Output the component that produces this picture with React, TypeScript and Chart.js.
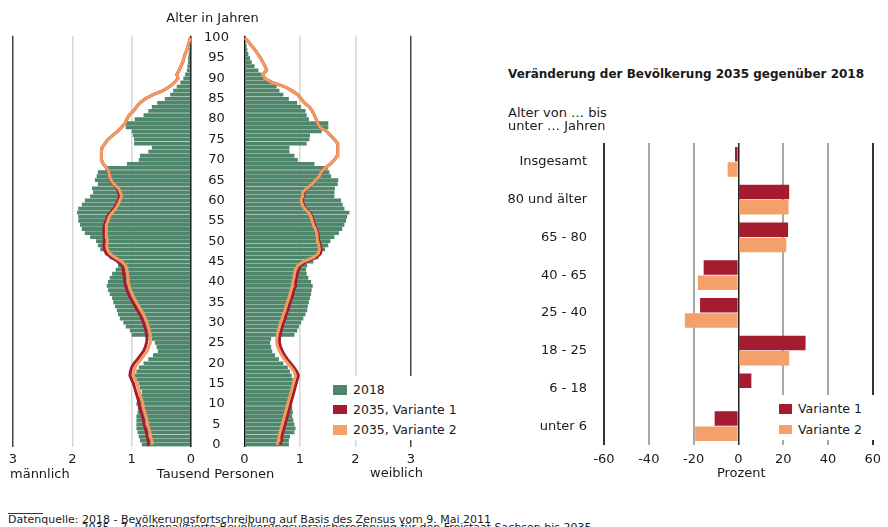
import React, { useEffect, useRef } from "react";
import { Chart, registerables } from "chart.js";

Chart.register(...registerables);

// ---------- data ----------
const AGE_LABELS: string[] = Array.from({ length: 101 }, (_, i) => String(i));

// thousand persons, index = age 0..100
const MALE_2018 = [
  0.83, 0.86, 0.88, 0.9, 0.92, 0.92, 0.92, 0.92, 0.9, 0.88,
  0.92, 0.88, 0.88, 0.83, 0.86, 0.88, 0.92, 0.95, 0.92, 0.88,
  0.8, 0.72, 0.64, 0.56, 0.58, 0.61, 0.66, 1.0, 1.03, 1.1,
  1.14, 1.2, 1.23, 1.25, 1.28, 1.31, 1.33, 1.37, 1.4, 1.42,
  1.4, 1.37, 1.33, 1.27, 1.23, 1.25, 1.37, 1.45, 1.53, 1.57,
  1.6, 1.7, 1.79, 1.84, 1.87, 1.9, 1.9, 1.92, 1.9, 1.84,
  1.79, 1.7, 1.65, 1.67, 1.57, 1.62, 1.59, 1.57, 1.45, 1.08,
  0.88, 0.86, 0.72, 0.66, 0.96, 0.96, 0.98, 1.0, 1.1, 1.1,
  0.95, 0.8, 0.72, 0.66, 0.57, 0.44, 0.35, 0.3, 0.24, 0.18,
  0.13, 0.1, 0.07, 0.06, 0.05, 0.05, 0.04, 0.03, 0.02, 0.01,
  0.01,
];
const MALE_2035_V1 = [
  0.71, 0.72, 0.74, 0.75, 0.77, 0.79, 0.8, 0.82, 0.84, 0.86,
  0.87, 0.89, 0.91, 0.93, 0.95, 0.97, 1.0, 1.03, 1.02, 1.0,
  0.96, 0.9, 0.85, 0.8, 0.77, 0.75, 0.74, 0.75, 0.76, 0.78,
  0.8, 0.83, 0.86, 0.9, 0.94, 0.98, 1.02, 1.05, 1.08, 1.1,
  1.12, 1.12, 1.13, 1.14, 1.16, 1.23, 1.34, 1.43, 1.46, 1.47,
  1.46, 1.46, 1.47, 1.47, 1.46, 1.43, 1.41, 1.36, 1.3, 1.26,
  1.23, 1.2, 1.22, 1.24, 1.31, 1.36, 1.37, 1.38, 1.42, 1.48,
  1.51, 1.51, 1.51, 1.5, 1.45, 1.4, 1.32, 1.24, 1.17, 1.11,
  1.08, 1.04, 0.97, 0.92, 0.86, 0.77, 0.64, 0.47, 0.36, 0.28,
  0.22, 0.24, 0.2, 0.17, 0.14, 0.12, 0.1, 0.07, 0.05, 0.03,
  0.01,
];
const MALE_2035_V2 = [
  0.65, 0.66, 0.68, 0.69, 0.71, 0.73, 0.74, 0.76, 0.78, 0.8,
  0.81, 0.83, 0.85, 0.87, 0.89, 0.91, 0.94, 0.97, 0.96, 0.94,
  0.9, 0.84, 0.79, 0.74, 0.71, 0.69, 0.68, 0.69, 0.7, 0.72,
  0.74, 0.77, 0.8, 0.84, 0.88, 0.92, 0.96, 0.99, 1.02, 1.04,
  1.06, 1.06, 1.07, 1.08, 1.1, 1.17, 1.28, 1.37, 1.41, 1.42,
  1.41, 1.42, 1.43, 1.43, 1.42, 1.4, 1.38, 1.33, 1.27, 1.23,
  1.2, 1.17, 1.19, 1.22, 1.3, 1.35, 1.37, 1.38, 1.42, 1.48,
  1.51, 1.51, 1.51, 1.5, 1.45, 1.4, 1.32, 1.24, 1.17, 1.11,
  1.08, 1.04, 0.97, 0.92, 0.86, 0.77, 0.64, 0.47, 0.36, 0.28,
  0.22, 0.24, 0.2, 0.17, 0.14, 0.12, 0.1, 0.07, 0.05, 0.03,
  0.01,
];
const FEMALE_2018 = [
  0.8, 0.8, 0.82, 0.9, 0.92, 0.9, 0.88, 0.86, 0.87, 0.86,
  0.85, 0.86, 0.84, 0.85, 0.84, 0.86, 0.87, 0.85, 0.82, 0.78,
  0.7, 0.62, 0.55, 0.5, 0.48, 0.46, 0.48, 0.9, 0.95, 0.98,
  1.02, 1.06, 1.1, 1.13, 1.14, 1.16, 1.18, 1.2, 1.21, 1.23,
  1.2, 1.15, 1.12, 1.11, 1.13, 1.24, 1.33, 1.38, 1.45, 1.51,
  1.55, 1.62, 1.7, 1.76, 1.8, 1.83, 1.85, 1.89, 1.8, 1.77,
  1.74, 1.62, 1.62, 1.63, 1.68, 1.69, 1.56, 1.53, 1.5, 1.26,
  0.96, 0.9, 0.81, 0.81, 1.12, 1.17, 1.18, 1.39, 1.51, 1.51,
  1.16, 1.12, 1.1, 1.02, 0.95, 0.8, 0.7, 0.63, 0.58, 0.5,
  0.38, 0.3, 0.25, 0.18, 0.13, 0.1, 0.07, 0.05, 0.04, 0.02,
  0.01,
];
const FEMALE_2035_V1 = [
  0.64, 0.66, 0.67, 0.69, 0.71, 0.73, 0.75, 0.77, 0.79, 0.81,
  0.83, 0.85, 0.87, 0.89, 0.91, 0.93, 0.95, 0.97, 0.94, 0.89,
  0.83, 0.77, 0.72, 0.68, 0.65, 0.63, 0.63, 0.64, 0.66, 0.68,
  0.7, 0.73, 0.75, 0.78, 0.8, 0.82, 0.85, 0.87, 0.89, 0.91,
  0.92, 0.94, 0.95, 0.97, 1.01, 1.11, 1.29, 1.37, 1.38, 1.37,
  1.34, 1.33, 1.32, 1.3, 1.26, 1.24, 1.22, 1.18, 1.1, 1.06,
  1.04, 1.06, 1.07, 1.13, 1.23, 1.28, 1.35, 1.38, 1.45, 1.55,
  1.62, 1.67, 1.68, 1.68, 1.68, 1.62, 1.55, 1.48, 1.36, 1.32,
  1.29, 1.26, 1.22, 1.17, 1.08, 1.02, 0.96, 0.85, 0.72, 0.5,
  0.36, 0.33, 0.4, 0.37, 0.33, 0.29, 0.24, 0.19, 0.13, 0.07,
  0.0,
];
const FEMALE_2035_V2 = [
  0.59, 0.61, 0.62, 0.64, 0.66, 0.68, 0.7, 0.72, 0.74, 0.76,
  0.78, 0.8, 0.82, 0.84, 0.86, 0.88, 0.9, 0.92, 0.89, 0.84,
  0.78, 0.72, 0.67, 0.63, 0.6, 0.58, 0.58, 0.59, 0.61, 0.63,
  0.65, 0.68, 0.7, 0.73, 0.75, 0.77, 0.8, 0.82, 0.84, 0.86,
  0.87, 0.89, 0.9, 0.92, 0.96, 1.06, 1.24, 1.33, 1.35, 1.34,
  1.32, 1.31, 1.3, 1.28, 1.24, 1.22, 1.2, 1.16, 1.08, 1.04,
  1.02, 1.04, 1.05, 1.12, 1.22, 1.28, 1.35, 1.38, 1.45, 1.55,
  1.62, 1.67, 1.68, 1.68, 1.68, 1.62, 1.55, 1.48, 1.36, 1.32,
  1.29, 1.26, 1.22, 1.17, 1.08, 1.02, 0.96, 0.85, 0.72, 0.5,
  0.36, 0.33, 0.4, 0.37, 0.33, 0.29, 0.24, 0.19, 0.13, 0.07,
  0.0,
];

const CHANGE_CATEGORIES = [
  "Insgesamt",
  "80 und älter",
  "65 - 80",
  "40 - 65",
  "25 - 40",
  "18 - 25",
  "6 - 18",
  "unter 6",
];
const CHANGE_V1 = [-1.5, 22.7, 22.2, -15.5, -17.1, 30.0, 5.8, -10.6];
const CHANGE_V2 = [-4.8, 22.4, 21.4, -18.1, -23.9, 22.7, 0, -19.3];

const PYRAMID_TICKS = [0, 1, 2, 3];

// ---------- styles ----------
const GREEN = "#4f876d";
const RED = "#a51c30";
const ORANGE = "#f39a5f";
const ORANGE_BAR = "#f4a06a";
const TEXT = "#1a1a1a";
const FONT = "DejaVu Sans";

Chart.defaults.font.family = FONT;
Chart.defaults.font.size = 13;
Chart.defaults.color = TEXT;

function pyramidGridColor(ctx: any) {
  const v = ctx.tick ? ctx.tick.value : 0;
  if (v === 0) return "#111111";
  if (v === 3) return "#444444";
  return "#d6d6d6";
}

function pyramidConfig(side: "m" | "f"): any {
  const isMale = side === "m";
  const bars = isMale ? MALE_2018 : FEMALE_2018;
  const v1 = isMale ? MALE_2035_V1 : FEMALE_2035_V1;
  const v2 = isMale ? MALE_2035_V2 : FEMALE_2035_V2;
  const yScale: any = {
    type: "category",
    reverse: true,
    display: !isMale,
    position: "left",
    grid: { display: false, drawTicks: false },
    border: { display: false },
    ticks: {
      autoSkip: false,
      crossAlign: "center",
      padding: 15.6,
      color: TEXT,
      font: { size: 13 },
      callback: function (this: any, value: any) {
        const lbl = Number(this.getLabelForValue(value));
        return lbl % 5 === 0 ? String(lbl) : "";
      },
    },
  };
  if (!isMale) {
    yScale.afterFit = (scale: any) => {
      scale.width = 53.5;
      scale.paddingTop = 0;
      scale.paddingBottom = 0;
    };
  }
  return {
    type: "bar",
    data: {
      labels: AGE_LABELS,
      datasets: [
        {
          type: "line",
          label: "2035, Variante 2",
          data: v2,
          indexAxis: "y",
          borderColor: ORANGE,
          borderWidth: 3,
          pointRadius: 0,
          tension: 0,
          order: 1,
        },
        {
          type: "line",
          label: "2035, Variante 1",
          data: v1,
          indexAxis: "y",
          borderColor: RED,
          borderWidth: 3,
          pointRadius: 0,
          tension: 0,
          order: 2,
        },
        {
          type: "bar",
          label: "2018",
          data: bars,
          backgroundColor: GREEN,
          borderWidth: 0,
          barPercentage: 0.93,
          categoryPercentage: 1,
          order: 3,
        },
      ],
    },
    options: {
      indexAxis: "y",
      animation: false,
      responsive: false,
      maintainAspectRatio: false,
      devicePixelRatio: 1,
      layout: {
        padding: isMale
          ? { left: 13, right: 14, top: 35.7, bottom: 8.3 }
          : { left: 0, right: 20, top: 35.7, bottom: 8.3 },
      },
      plugins: { legend: { display: false }, tooltip: { enabled: false } },
      scales: {
        x: {
          type: "linear",
          reverse: isMale,
          min: 0,
          max: 3,
          afterBuildTicks: (scale: any) => {
            scale.ticks = PYRAMID_TICKS.map((v) => ({ value: v }));
          },
          ticks: { padding: 5, color: TEXT, font: { size: 13 } },
          grid: {
            color: pyramidGridColor,
            lineWidth: 1.5,
            drawTicks: false,
          },
          border: { display: false },
          afterFit: (scale: any) => {
            scale.height = 25;
          },
        },
        y: yScale,
      },
    },
  };
}

function changeGridColor(ctx: any) {
  const v = ctx.tick ? ctx.tick.value : 0;
  if (v === 0) return "#222222";
  if (v === -60 || v === 60) return "#333333";
  return "#a8a8a8";
}

function changeConfig(): any {
  return {
    type: "bar",
    data: {
      labels: CHANGE_CATEGORIES,
      datasets: [
        {
          label: "Variante 1",
          data: CHANGE_V1,
          backgroundColor: RED,
          borderWidth: 0,
          barPercentage: 0.95,
          categoryPercentage: 0.81,
        },
        {
          label: "Variante 2",
          data: CHANGE_V2,
          backgroundColor: ORANGE_BAR,
          borderWidth: 0,
          barPercentage: 0.95,
          categoryPercentage: 0.81,
        },
      ],
    },
    options: {
      indexAxis: "y",
      animation: false,
      responsive: false,
      maintainAspectRatio: false,
      devicePixelRatio: 1,
      layout: { padding: { left: 0, right: 8, top: 13, bottom: 0 } },
      plugins: { legend: { display: false }, tooltip: { enabled: false } },
      scales: {
        x: {
          type: "linear",
          min: -60,
          max: 60,
          ticks: { stepSize: 20, padding: 7, color: TEXT, font: { size: 13 } },
          grid: {
            color: changeGridColor,
            lineWidth: (ctx: any) => (ctx.tick && ctx.tick.value === 0 ? 1.5 : 2),
            drawTicks: false,
          },
          border: { display: false },
          afterFit: (scale: any) => {
            scale.height = 35;
          },
        },
        y: {
          type: "category",
          grid: { display: false, drawTicks: false },
          border: { display: false },
          ticks: { padding: 17, color: TEXT, font: { size: 13 } },
          afterFit: (scale: any) => {
            scale.width = 124;
            scale.paddingTop = 0;
            scale.paddingBottom = 0;
          },
        },
      },
    },
  };
}

// ---------- helpers ----------
const baseText: React.CSSProperties = {
  position: "absolute",
  whiteSpace: "nowrap",
  fontFamily: FONT,
  color: TEXT,
  fontSize: 13,
  lineHeight: "16px",
  height: 16,
};

function Txt(props: {
  x: number;
  cy: number;
  children: React.ReactNode;
  align?: "left" | "center";
  size?: number;
  bold?: boolean;
}) {
  const { x, cy, align = "left", size = 13, bold = false } = props;
  const style: React.CSSProperties = {
    ...baseText,
    fontSize: size,
    fontWeight: bold ? "bold" : "normal",
    top: cy - 8,
    left: x,
    transform: align === "center" ? "translateX(-50%)" : undefined,
  };
  return <div style={style}>{props.children}</div>;
}

function LegendItem(props: { x: number; cy: number; color: string; label: string; w: number; h: number; gap: number; size: number }) {
  const { x, cy, color, label, w, h, gap, size } = props;
  return (
    <>
      <div
        style={{
          position: "absolute",
          left: x,
          top: cy - h / 2,
          width: w,
          height: h,
          background: color,
        }}
      />
      <Txt x={x + w + gap} cy={cy} size={size}>
        {label}
      </Txt>
    </>
  );
}

export default function App() {
  const maleRef = useRef<HTMLCanvasElement | null>(null);
  const femaleRef = useRef<HTMLCanvasElement | null>(null);
  const changeRef = useRef<HTMLCanvasElement | null>(null);

  useEffect(() => {
    const charts: Chart[] = [];
    if (maleRef.current) charts.push(new Chart(maleRef.current, pyramidConfig("m")));
    if (femaleRef.current) charts.push(new Chart(femaleRef.current, pyramidConfig("f")));
    if (changeRef.current) charts.push(new Chart(changeRef.current, changeConfig()));
    return () => {
      charts.forEach((c) => c.destroy());
    };
  }, []);

  const canvasStyle = (left: number, top: number, w: number, h: number): React.CSSProperties => ({
    position: "absolute",
    left,
    top,
    width: w,
    height: h,
  });

  return (
    <div
      style={{
        position: "absolute",
        left: 0,
        top: 0,
        width: 888,
        height: 527,
        overflow: "hidden",
        background: "#ffffff",
        fontFamily: FONT,
      }}
    >
      <canvas ref={maleRef} width={205} height={480} style={canvasStyle(0, 0, 205, 480)} />
      <canvas ref={femaleRef} width={240} height={480} style={canvasStyle(191, 0, 240, 480)} />
      <canvas ref={changeRef} width={408} height={350} style={canvasStyle(480, 130, 408, 350)} />

      {/* pyramid texts */}
      <Txt x={212.5} cy={18.3} align="center">Alter in Jahren</Txt>
      <Txt x={10} cy={473.5}>männlich</Txt>
      <Txt x={215.5} cy={473.5} align="center">Tausend Personen</Txt>
      <Txt x={370} cy={473}>weiblich</Txt>

      {/* pyramid legend */}
      <div style={{ position: "absolute", left: 328, top: 376, width: 140, height: 64, background: "#ffffff" }} />
      <LegendItem x={333} cy={390} color={GREEN} label="2018" w={13.5} h={9.5} gap={6.5} size={12.5} />
      <LegendItem x={333} cy={409.5} color={RED} label="2035, Variante 1" w={13.5} h={9.5} gap={6.5} size={12.5} />
      <LegendItem x={333} cy={430} color={ORANGE_BAR} label="2035, Variante 2" w={13.5} h={9.5} gap={6.5} size={12.5} />

      {/* change chart texts */}
      <Txt x={508} cy={74} bold size={12}>Veränderung der Bevölkerung 2035 gegenüber 2018</Txt>
      <Txt x={508} cy={112.7}>Alter von … bis</Txt>
      <Txt x={508} cy={125.5}>unter … Jahren</Txt>
      <Txt x={741.3} cy={472.7} align="center">Prozent</Txt>

      {/* change legend */}
      <div style={{ position: "absolute", left: 775, top: 395, width: 111, height: 45, background: "#ffffff" }} />
      <LegendItem x={779.3} cy={409} color={RED} label="Variante 1" w={12.4} h={9.5} gap={6.3} size={12.5} />
      <LegendItem x={779.3} cy={429.5} color={ORANGE_BAR} label="Variante 2" w={12.4} h={9.5} gap={6.3} size={12.5} />

      {/* footer */}
      <div style={{ position: "absolute", left: 8, top: 512.5, width: 35, height: 1, background: "#333333" }} />
      <div style={{ ...baseText, fontSize: 11, lineHeight: "11px", height: 11, left: 8, top: 513.5 }}>
        Datenquelle: 2018 - Bevölkerungsfortschreibung auf Basis des Zensus vom 9. Mai 2011
      </div>
      <div style={{ ...baseText, fontSize: 11, lineHeight: "11px", height: 11, left: 81.5, top: 521.5 }}>
        2035 - 7. Regionalisierte Bevölkerungsvorausberechnung für den Freistaat Sachsen bis 2035
      </div>
    </div>
  );
}
